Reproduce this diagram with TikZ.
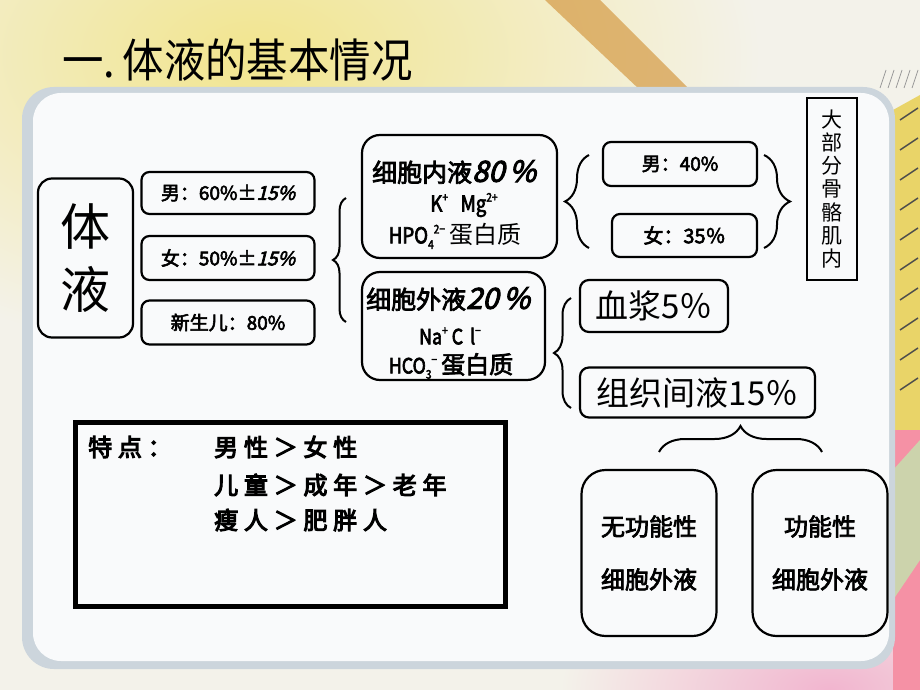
\documentclass[tikz,border=0pt]{standalone}
\usepackage{fontspec}
\setmainfont{Noto Sans CJK SC}
\newfontfamily\cjk{Noto Sans CJK SC}
\newfontfamily\cjkb[FakeBold=3]{Noto Sans CJK SC}
\newfontfamily\cjkn[FakeBold=3,FakeStretch=0.85]{Noto Sans CJK SC}
\newfontfamily\cjkbi[FakeBold=3.5,FakeSlant=0.25]{Noto Sans CJK SC}
\newfontfamily\cjkt[FakeStretch=0.9]{Noto Sans CJK SC}
\newfontfamily\cjkh[FakeBold=4.5,LetterSpace=24]{Noto Sans CJK SC}
\usetikzlibrary{decorations.pathreplacing}
\newcommand{\upx}[1]{\raisebox{0.45em}{\fontsize{12}{12}\selectfont #1}}
\newcommand{\dnx}[1]{\raisebox{-0.25em}{\fontsize{12}{12}\selectfont #1}}
\definecolor{bgbase}{HTML}{F3F2EA}
\definecolor{panel}{HTML}{F9FAFB}
\definecolor{rim}{HTML}{CCD5DC}
\definecolor{ylw}{HTML}{F2E58E}
\definecolor{pnk}{HTML}{F2B5CF}
\definecolor{pencil}{HTML}{D59A45}
\definecolor{ruler}{HTML}{E9D468}
\begin{document}
\begin{tikzpicture}[x=1pt,y=-1pt,
  bx/.style={draw=black, line width=2.2pt, rounded corners=#1, inner sep=0pt, align=center},
  bx/.default=8pt,
  brc/.style={decorate, decoration={brace, amplitude=#1}, line width=2pt},
  brc/.default=12pt]
\useasboundingbox (0,0) rectangle (920,690);
% background
\fill[bgbase] (0,0) rectangle (920,690);
\shade[inner color=ylw, outer color=bgbase] (-250,-250) rectangle (760,360);
\shade[inner color=pnk, outer color=bgbase] (560,560) rectangle (1100,820);
\fill[pencil, opacity=0.7] (545,0) -- (600,0) -- (690,90) -- (640,90) -- cycle;
\fill[ruler] (893,110) -- (920,95) -- (920,430) -- (893,430) -- cycle;
\foreach \yy in {120,150,180,210,240,270,300,330,360,390}
  \draw[black!70, line width=1.5pt] (900,\yy) -- (918,\yy-12);
\foreach \xx in {880,888,896,904,912}
  \draw[black!40, line width=0.8pt] (\xx,88) -- (\xx+6,70);
\fill[pnk!80!red] (893,430) rectangle (920,690);
\fill[green!30!white, opacity=0.6] (893,470) -- (920,440) -- (920,560) -- (893,600) -- cycle;
% panel
\fill[rim, rounded corners=32pt] (22,87) rectangle (895,669);
\fill[panel, rounded corners=28pt] (33,93) rectangle (889,661);
% title
\node[anchor=west, inner sep=0pt, font=\cjkt\fontsize{46}{46}\selectfont] (title) at (62,60)
  {一.\,体液的基本情况};
% left column
\node[bx=14pt, minimum width=95pt, minimum height=159pt, font=\cjk\fontsize{50}{63}\selectfont] (tiye) at (85.5,258)
  {体\\液};
\node[bx, minimum width=173pt, minimum height=42pt] (m60) at (228,193)
  {\cjkb\fontsize{19}{19}\selectfont 男：60\%±{\cjkbi 15\%}};
\node[bx, minimum width=173pt, minimum height=44pt] (f50) at (228,258)
  {\cjkb\fontsize{19}{19}\selectfont 女：50\%±{\cjkbi 15\%}};
\node[bx, minimum width=173pt, minimum height=44pt] (nb) at (228,322.5)
  {\cjkb\fontsize{19}{19}\selectfont 新生儿：80\%};
% intracellular
\node[bx=18pt, minimum width=195pt, minimum height=123pt] (icf) at (459.5,196.5) {};
\node[inner sep=0pt] (icft) at (454,172)
  {\cjkb\fontsize{25}{25}\selectfont 细胞内液{\cjkbi\fontsize{29}{29}\selectfont 80\,\%}};
\node[inner sep=0pt] (icf1) at (464,205)
  {\cjkn\fontsize{22}{22}\selectfont K\upx{+}\ \ \ Mg\upx{2+}};
\node[inner sep=0pt] (icf2) at (455,236)
  {\cjkn\fontsize{22}{22}\selectfont HPO\dnx{4}\upx{2−}\ {\cjk\fontsize{24}{24}\selectfont 蛋白质}};
% extracellular
\node[bx=18pt, minimum width=183pt, minimum height=108pt] (ecf) at (453.5,326) {};
\node[inner sep=0pt] (ecft) at (448,299)
  {\cjkb\fontsize{25}{25}\selectfont 细胞外液{\cjkbi\fontsize{29}{29}\selectfont 20\,\%}};
\node[inner sep=0pt] (ecf1) at (450,336)
  {\cjkn\fontsize{21}{21}\selectfont Na\upx{+}\ C\,\,l\upx{−}};
\node[inner sep=0pt] (ecf2) at (451,366)
  {\cjkn\fontsize{21}{21}\selectfont HCO\dnx{3}\upx{−}\ {\cjkb\fontsize{24}{24}\selectfont 蛋白质}};
% male/female
\node[bx, minimum width=154pt, minimum height=44pt] (m40) at (680,164)
  {\cjkb\fontsize{19}{19}\selectfont 男：40\%};
\node[bx, minimum width=145pt, minimum height=43pt] (f35) at (684.5,235.5)
  {\cjkb\fontsize{20}{20}\selectfont 女：35％};
\node[draw=black, line width=2.5pt, inner sep=0pt, minimum width=50pt, minimum height=182pt, align=center,
  font=\cjk\fontsize{21}{23.3}\selectfont] (musc) at (832,189)
  {大\\部\\分\\骨\\骼\\肌\\内};
% plasma / interstitial
\node[bx=9pt, minimum width=148pt, minimum height=52pt] (plas) at (654,306)
  {\cjk\fontsize{33}{33}\selectfont 血浆5％};
\node[bx=9pt, minimum width=235pt, minimum height=50pt] (isf) at (697.5,392.5)
  {\cjk\fontsize{33}{33}\selectfont 组织间液15％};
% bottom boxes
\node[bx=24pt, minimum width=135pt, minimum height=166pt, font=\cjkb\fontsize{24}{53}\selectfont] (nf) at (649,553)
  {无功能性\\细胞外液};
\node[bx=24pt, minimum width=135pt, minimum height=166pt, font=\cjkb\fontsize{24}{53}\selectfont] (fn) at (820,553)
  {功能性\\细胞外液};
% features box
\node[draw=black, line width=5pt, minimum width=430pt, minimum height=184pt, inner sep=0pt] (feat) at (290,514) {};
\node[anchor=west, inner sep=0pt] (ft0) at (88,447) {\cjkh\fontsize{24}{24}\selectfont 特点：};
\node[anchor=west, inner sep=0pt] (ft1) at (214,447) {\cjkh\fontsize{24}{24}\selectfont 男性＞女性};
\node[anchor=west, inner sep=0pt] (ft2) at (214,485) {\cjkh\fontsize{24}{24}\selectfont 儿童＞成年＞老年};
\node[anchor=west, inner sep=0pt] (ft3) at (214,520) {\cjkh\fontsize{24}{24}\selectfont 瘦人＞肥胖人};
% braces
\coordinate (b1a) at (346,322); \coordinate (b1b) at (346,198);
\draw[brc=13pt] (b1a) -- (b1b);
\coordinate (b2a) at (589,248); \coordinate (b2b) at (589,155);
\draw[brc=24pt] (b2a) -- (b2b);
\coordinate (b3a) at (764,155); \coordinate (b3b) at (764,248);
\draw[brc=26pt] (b3a) -- (b3b);
\coordinate (b4a) at (571,408); \coordinate (b4b) at (571,298);
\draw[brc=17pt] (b4a) -- (b4b);
\coordinate (b5a) at (659,452); \coordinate (b5b) at (822,452);
\draw[brc=26pt] (b5a) -- (b5b);
\end{tikzpicture}
\end{document}
